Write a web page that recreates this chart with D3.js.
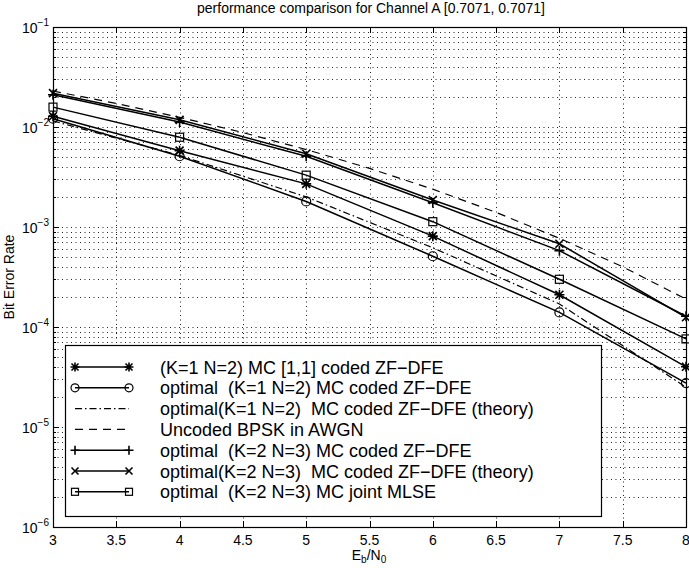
<!DOCTYPE html>
<html lang="en">
  <head>
    <script src="https://d3js.org/d3.v7.min.js"></script>
    <style>
      body { margin: 0; background: #fff; }
      text { font-family: "Liberation Sans", Arial, sans-serif; fill: #000; white-space: pre; }
    </style>
  </head>
  <body>
    <script>
      // Eb/N0 points (dB)
      var ebno = [3, 4, 5, 6, 7, 8];
      var ebnoFine = [3, 3.5, 4, 4.5, 5, 5.5, 6, 6.5, 7, 7.5, 8];

      // bit error rates
      var starBer = [0.0128, 0.0058, 0.0027, 0.00081, 0.00021, 0.00004];
      var circleBer = [0.0121, 0.0051, 0.0018, 0.00051, 0.00014, 0.0000275];
      var theory1Ber = [0.0115, 0.0052, 0.002, 0.00062, 0.00017, 0.000025];
      var bpskBer = [0.0229, 0.0172, 0.0125, 0.0088, 0.00595, 0.00386, 0.00239, 0.0014, 0.00077, 0.0004, 0.00019];
      var plusBer = [0.021, 0.0112, 0.0051, 0.00175, 0.00058, 0.000128];
      var crossBer = [0.0218, 0.0118, 0.0054, 0.00186, 0.00068, 0.000125];
      var squareBer = [0.0158, 0.0079, 0.0033, 0.00113, 0.0003, 0.000076];

      var legendLabels = [
        "(K=1 N=2) MC [1,1] coded ZF\u2212DFE",
        "optimal  (K=1 N=2) MC coded ZF\u2212DFE",
        "optimal(K=1 N=2)  MC coded ZF\u2212DFE (theory)",
        "Uncoded BPSK in AWGN",
        "optimal  (K=2 N=3) MC coded ZF\u2212DFE",
        "optimal(K=2 N=3)  MC coded ZF\u2212DFE (theory)",
        "optimal  (K=2 N=3) MC joint MLSE"
      ];
      var xTicks = [3, 3.5, 4, 4.5, 5, 5.5, 6, 6.5, 7, 7.5, 8];
      var yDecades = [-6, -5, -4, -3, -2, -1];

      var width = 689,
        height = 568;
      // plot box edges (named so they don't clash with window.top)
      var pLeft = 53, pRight = 686, pTop = 27, pBottom = 527;

      var svg = d3
        .select("body")
        .append("svg")
        .attr("width", width)
        .attr("height", height);

      var x = d3.scaleLinear().domain([3, 8]).range([pLeft, pRight]);
      var y = d3.scaleLog().domain([1e-6, 1e-1]).range([pBottom, pTop]);

      // series list (pairs x values with ber arrays)
      var series = [
        { xs: ebno, ys: starBer, marker: "star", dash: null },
        { xs: ebno, ys: circleBer, marker: "circle", dash: null },
        { xs: ebno, ys: theory1Ber, marker: null, dash: "7,3,1.5,3" },
        { xs: ebnoFine, ys: bpskBer, marker: null, dash: "8,6" },
        { xs: ebno, ys: plusBer, marker: "plus", dash: null },
        { xs: ebno, ys: crossBer, marker: "cross", dash: null },
        { xs: ebno, ys: squareBer, marker: "square", dash: null }
      ];

      // grid
      var minorVals = [];
      yDecades.forEach(function (e) {
        for (var m = 1; m < 10; m++) {
          var v = m * Math.pow(10, e);
          if (v > 1.0001e-6 && v < 0.9999e-1) minorVals.push(v);
        }
      });
      var grid = svg.append("g").attr("stroke", "#222").attr("stroke-dasharray", "1,3.5").attr("stroke-width", 1);
      grid.selectAll(".hg")
        .data(minorVals)
        .join("line")
        .attr("x1", pLeft)
        .attr("x2", pRight)
        .attr("y1", function (d) { return Math.round(y(d)) + 0.5; })
        .attr("y2", function (d) { return Math.round(y(d)) + 0.5; });
      grid.selectAll(".vg")
        .data(xTicks.slice(1, -1))
        .join("line")
        .attr("y1", pTop)
        .attr("y2", pBottom)
        .attr("x1", function (d) { return Math.round(x(d)) + 0.5; })
        .attr("x2", function (d) { return Math.round(x(d)) + 0.5; });

      // box and ticks
      svg.append("rect")
        .attr("x", pLeft + 0.5)
        .attr("y", pTop + 0.5)
        .attr("width", pRight - pLeft)
        .attr("height", pBottom - pTop)
        .attr("fill", "none")
        .attr("stroke", "#000")
        .attr("stroke-width", 1.2);

      var ticks = svg.append("g").attr("stroke", "#000").attr("stroke-width", 1);
      xTicks.forEach(function (t) {
        var px = Math.round(x(t)) + 0.5;
        ticks.append("line").attr("x1", px).attr("x2", px).attr("y1", pBottom).attr("y2", pBottom - 6);
        ticks.append("line").attr("x1", px).attr("x2", px).attr("y1", pTop).attr("y2", pTop + 6);
      });
      minorVals.concat([1e-6, 1e-1]).forEach(function (v) {
        var py = Math.round(y(v)) + 0.5;
        var major = Math.abs(Math.log10(v) - Math.round(Math.log10(v))) < 1e-9;
        var len = major ? 6 : 3;
        ticks.append("line").attr("x1", pLeft).attr("x2", pLeft + len).attr("y1", py).attr("y2", py);
        ticks.append("line").attr("x1", pRight).attr("x2", pRight - len).attr("y1", py).attr("y2", py);
      });

      // tick labels
      svg.selectAll(".xl")
        .data(xTicks)
        .join("text")
        .attr("x", function (d) { return x(d); })
        .attr("y", 545)
        .attr("text-anchor", "middle")
        .style("font-size", "14px")
        .text(function (d) { return d; });

      var yl = svg.selectAll(".yl")
        .data(yDecades)
        .join("text")
        .attr("x", 49)
        .attr("y", function (d) { return y(Math.pow(10, d)) + 6; })
        .attr("text-anchor", "end")
        .style("font-size", "14px");
      yl.append("tspan").text("10");
      yl.append("tspan")
        .attr("dy", -7)
        .style("font-size", "10px")
        .text(function (d) { return "\u2212" + (-d); });

      // axis titles
      svg.append("text")
        .attr("x", 371)
        .attr("y", 13)
        .attr("text-anchor", "middle")
        .style("font-size", "14px")
        .text("performance comparison for Channel A [0.7071, 0.7071]");

      var xt = svg.append("text")
        .attr("x", 369)
        .attr("y", 560)
        .attr("text-anchor", "middle")
        .style("font-size", "14px");
      xt.append("tspan").text("E");
      xt.append("tspan").attr("dy", 3).style("font-size", "10px").text("b");
      xt.append("tspan").attr("dy", -3).text("/N");
      xt.append("tspan").attr("dy", 3).style("font-size", "10px").text("0");

      svg.append("text")
        .attr("transform", "translate(14,277) rotate(-90)")
        .attr("text-anchor", "middle")
        .style("font-size", "14px")
        .text("Bit Error Rate");

      // marker drawing
      function drawMarker(g, type, cx, cy, s) {
        if (type === "circle") {
          g.append("circle").attr("cx", cx).attr("cy", cy).attr("r", s + 0.5).attr("fill", "none").attr("stroke", "#000").attr("stroke-width", 1.2);
        } else if (type === "square") {
          g.append("rect").attr("x", cx - s).attr("y", cy - s).attr("width", 2 * s).attr("height", 2 * s).attr("fill", "none").attr("stroke", "#000").attr("stroke-width", 1.2);
        } else {
          var p = "";
          if (type === "plus" || type === "star") p += "M" + (cx - s - 1) + "," + cy + "H" + (cx + s + 1) + "M" + cx + "," + (cy - s - 1) + "V" + (cy + s + 1);
          if (type === "cross" || type === "star") p += "M" + (cx - s) + "," + (cy - s) + "L" + (cx + s) + "," + (cy + s) + "M" + (cx - s) + "," + (cy + s) + "L" + (cx + s) + "," + (cy - s);
          g.append("path").attr("d", p).attr("stroke", "#000").attr("stroke-width", 1.6).attr("fill", "none");
        }
      }

      // lines
      var line = d3.line()
        .x(function (d) { return x(d[0]); })
        .y(function (d) { return y(d[1]); });

      var plot = svg.append("g");
      series.forEach(function (s) {
        var pts = s.xs.map(function (v, i) { return [v, s.ys[i]]; });
        plot.append("path")
          .attr("d", line(pts))
          .attr("fill", "none")
          .attr("stroke", "#000")
          .attr("stroke-width", s.dash ? 1.2 : 1.5)
          .attr("stroke-dasharray", s.dash);
        if (s.marker) {
          pts.forEach(function (p) { drawMarker(plot, s.marker, x(p[0]), y(p[1]), 4); });
        }
      });

      // legend
      var lg = svg.append("g");
      lg.append("rect")
        .attr("x", 65.5)
        .attr("y", 345.5)
        .attr("width", 536)
        .attr("height", 171)
        .attr("fill", "#fff")
        .attr("stroke", "#000")
        .attr("stroke-width", 1.2);
      series.forEach(function (s, i) {
        var ry = 367 + i * 20.8;
        lg.append("line")
          .attr("x1", 75).attr("x2", 129)
          .attr("y1", ry).attr("y2", ry)
          .attr("stroke", "#000")
          .attr("stroke-width", s.dash ? 1.2 : 1.5)
          .attr("stroke-dasharray", s.dash);
        if (s.marker) {
          drawMarker(lg, s.marker, 75, ry, 3.5);
          drawMarker(lg, s.marker, 129, ry, 3.5);
        }
        lg.append("text")
          .attr("x", 160)
          .attr("y", ry + 6.5)
          .style("font-size", "18px")
          .text(legendLabels[i]);
      });
    </script>
  </body>
</html>
